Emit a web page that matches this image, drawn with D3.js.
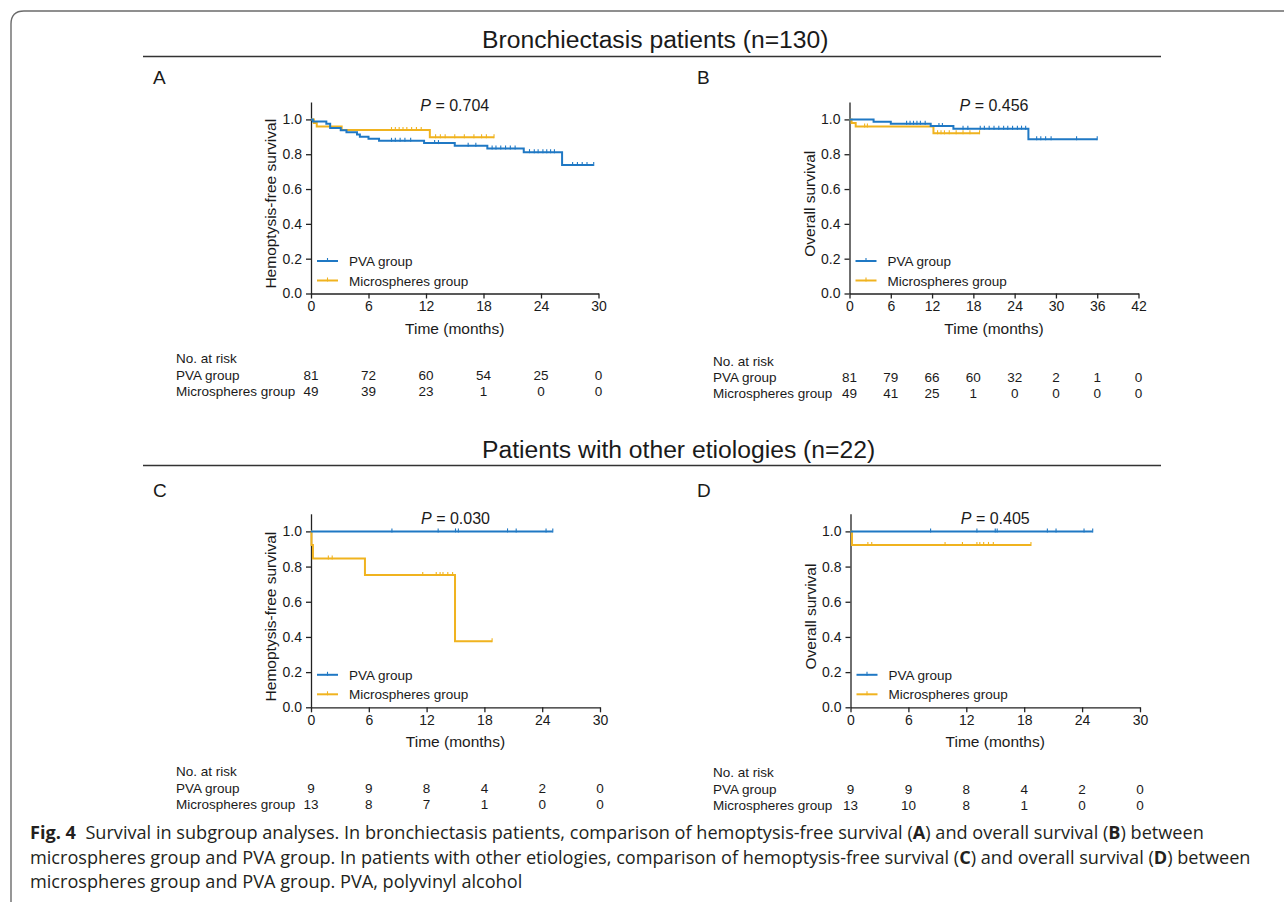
<!DOCTYPE html>
<html>
<head>
<meta charset="utf-8">
<title>Survival in subgroup analyses</title>
<script src="https://cdn.jsdelivr.net/npm/d3@7"></script>
<style>
	body { margin: 0; background: #fff; }
	text { font-family: "Liberation Sans", Arial, sans-serif; fill: #1a1a1a; }
	.caption text, text.caption { font-family: "Open Sans", sans-serif; fill: #231f20; }
</style>
</head>
<body>
<div id="chart"></div>
<script>
var BLUE = "#1f78c4", GOLD = "#f0b31f";
var groups = ["PVA group", "Microspheres group"];

// A: bronchiectasis, hemoptysis-free survival
var aPvaTime = [0, 0.2, 1.6, 2.0, 3.1, 3.7, 4.8, 5.1, 6.0, 7.1, 11.8, 15.0, 18.4, 22.2, 26.2];
var aPvaSurv = [1, 0.988, 0.975, 0.951, 0.938, 0.926, 0.914, 0.901, 0.889, 0.877, 0.864, 0.849, 0.833, 0.812, 0.738];
var aPvaCens = [8.4, 8.8, 9.3, 9.8, 10.4, 12.9, 13.3, 16.4, 17.2, 18.9, 19.3, 19.8, 20.3, 20.8, 21.3, 22.8, 23.3, 23.7, 24.2, 24.6, 25.0, 25.4, 27.3, 27.8, 28.3, 28.8, 29.5];
var aMicTime = [0, 0.3, 0.6, 3.2, 12.4];
var aMicSurv = [1, 0.98, 0.959, 0.939, 0.898];
var aMicCens = [8.4, 8.8, 9.2, 9.6, 10.0, 10.5, 11.0, 11.5, 13.0, 13.5, 14.0, 15.0, 16.0, 17.0, 17.8, 18.3, 19.1];
var aRiskTime = [0, 6, 12, 18, 24, 30];
var aRiskPva = [81, 72, 60, 54, 25, 0];
var aRiskMic = [49, 39, 23, 1, 0, 0];

// B: bronchiectasis, overall survival
var bPvaTime = [0, 3.5, 6.0, 11.8, 15.1, 26.0];
var bPvaSurv = [1, 0.987, 0.975, 0.962, 0.947, 0.886];
var bPvaCens = [8.3, 8.8, 9.3, 9.8, 10.3, 11.0, 13.0, 13.5, 16.5, 17.2, 19.0, 19.6, 20.3, 21.0, 21.7, 22.4, 23.0, 23.7, 24.4, 25.0, 25.6, 27.2, 27.8, 28.5, 29.3, 33.0, 36.0];
var bMicTime = [0, 0.3, 0.9, 12.2];
var bMicSurv = [1, 0.98, 0.959, 0.92];
var bMicCens = [2.2, 2.6, 12.8, 13.3, 13.8, 14.5, 15.5, 16.5, 17.5, 18.9];
var bRiskTime = [0, 6, 12, 18, 24, 30, 36, 42];
var bRiskPva = [81, 79, 66, 60, 32, 2, 1, 0];
var bRiskMic = [49, 41, 25, 1, 0, 0, 0, 0];

// C: other etiologies, hemoptysis-free survival
var cPvaTime = [0];
var cPvaSurv = [1];
var cPvaCens = [8.4, 13.2, 15.0, 15.3, 20.4, 21.3, 24.4, 25.1];
var cMicTime = [0, 0.05, 0.2, 5.6, 14.95];
var cMicSurv = [1, 0.923, 0.846, 0.752, 0.376];
var cMicCens = [1.8, 2.2, 11.6, 13.0, 13.4, 13.7, 14.2, 14.7, 18.8];
var cRiskTime = [0, 6, 12, 18, 24, 30];
var cRiskPva = [9, 9, 8, 4, 2, 0];
var cRiskMic = [13, 8, 7, 1, 0, 0];

// D: other etiologies, overall survival
var dPvaTime = [0];
var dPvaSurv = [1];
var dPvaCens = [8.3, 13.1, 15.0, 15.2, 20.4, 21.3, 24.2, 25.1];
var dMicTime = [0, 0.15];
var dMicSurv = [1, 0.923];
var dMicCens = [1.8, 2.2, 9.8, 11.6, 13.1, 13.4, 13.8, 14.3, 14.8, 18.7];
var dRiskTime = [0, 6, 12, 18, 24, 30];
var dRiskPva = [9, 9, 8, 4, 2, 0];
var dRiskMic = [13, 10, 8, 1, 0, 0];

var pValues = ["0.704", "0.456", "0.030", "0.405"];
var yLabels = ["Hemoptysis-free survival", "Overall survival", "Hemoptysis-free survival", "Overall survival"];
var letters = ["A", "B", "C", "D"];
var yTicks = [0, 0.2, 0.4, 0.6, 0.8, 1.0];

var panels = [
	{pva: [aPvaTime, aPvaSurv, aPvaCens], mic: [aMicTime, aMicSurv, aMicCens], risk: [aRiskTime, aRiskPva, aRiskMic],
	 x0: 311, w: 287.5, y0: 293.5, h: 191.5, lx: 153, ly: 84, rx: 176, ry: [363, 380, 396]},
	{pva: [bPvaTime, bPvaSurv, bPvaCens], mic: [bMicTime, bMicSurv, bMicCens], risk: [bRiskTime, bRiskPva, bRiskMic],
	 x0: 849.5, w: 289, y0: 293.5, h: 191.5, lx: 697, ly: 84, rx: 713, ry: [366, 382, 398]},
	{pva: [cPvaTime, cPvaSurv, cPvaCens], mic: [cMicTime, cMicSurv, cMicCens], risk: [cRiskTime, cRiskPva, cRiskMic],
	 x0: 311, w: 289, y0: 707.3, h: 193.5, lx: 153, ly: 497, rx: 176, ry: [776, 793, 809]},
	{pva: [dPvaTime, dPvaSurv, dPvaCens], mic: [dMicTime, dMicSurv, dMicCens], risk: [dRiskTime, dRiskPva, dRiskMic],
	 x0: 850.5, w: 289.5, y0: 707.3, h: 193.5, lx: 697, ly: 497, rx: 713, ry: [777, 794, 810]}
];

var svg = d3.select("#chart").append("svg").attr("width", 1284).attr("height", 902);

// frame (only top and left edges are visible)
svg.append("path").attr("d", "M11,902 V24 Q11,11 24,11 H1284")
	.attr("fill", "none").attr("stroke", "#6b6b6b").attr("stroke-width", 1.4);

// section headings
[{t: "Bronchiectasis patients (n=130)", y: 48, ly: 56.5}, {t: "Patients with other etiologies (n=22)", y: 458, ly: 465.5}].forEach(function(s){
	svg.append("text").attr("x", 482).attr("y", s.y).attr("font-size", 24.7).text(s.t);
	svg.append("line").attr("x1", 143).attr("x2", 1161).attr("y1", s.ly).attr("y2", s.ly)
		.attr("stroke", "#333").attr("stroke-width", 1.4);
});

function survAt(times, surv, t){
	return surv[d3.bisectRight(times, t) - 1];
}

panels.forEach(function(p, i){
	var times = p.risk[0];
	var x = d3.scaleLinear().domain([0, times[times.length - 1]]).range([p.x0, p.x0 + p.w]);
	var y = d3.scaleLinear().domain([0, 1.1]).range([p.y0, p.y0 - p.h]);
	var g = svg.append("g");

	var xa = g.append("g").attr("transform", "translate(0," + p.y0 + ")")
		.call(d3.axisBottom(x).tickValues(times).tickSize(5).tickSizeOuter(0).tickPadding(3).tickFormat(d3.format("d")));
	var ya = g.append("g").attr("transform", "translate(" + p.x0 + ",0)")
		.call(d3.axisLeft(y).tickValues(yTicks).tickSize(5).tickSizeOuter(0).tickPadding(4).tickFormat(d3.format(".1f")));
	[xa, ya].forEach(function(a){
		a.attr("font-family", null).attr("font-size", 14);
		a.selectAll("path, line").attr("stroke", "#222").attr("stroke-width", 1.3);
		a.selectAll("text").attr("fill", "#1a1a1a");
	});

	g.append("text").attr("x", p.x0 + p.w / 2).attr("y", p.y0 + 40).attr("text-anchor", "middle")
		.attr("font-size", 15.5).text("Time (months)");
	g.append("text").attr("transform", "translate(" + (p.x0 - 35) + "," + (p.y0 - p.h / 2 + 6) + ") rotate(-90)")
		.attr("text-anchor", "middle").attr("font-size", 15.5).text(yLabels[i]);
	var pv = g.append("text").attr("x", p.x0 + p.w / 2).attr("y", p.y0 - 183).attr("text-anchor", "middle").attr("font-size", 16);
	pv.append("tspan").attr("font-style", "italic").text("P");
	pv.append("tspan").text(" = " + pValues[i]);
	svg.append("text").attr("x", p.lx).attr("y", p.ly).attr("font-size", 19).text(letters[i]);

	// curves: microspheres first, PVA on top
	[[p.mic, GOLD], [p.pva, BLUE]].forEach(function(c){
		var t = c[0][0], s = c[0][1], cens = c[0][2];
		var end = d3.max(cens);
		var pts = t.map(function(v, k){ return [v, s[k]]; });
		pts.push([end, s[s.length - 1]]);
		g.append("path").datum(pts)
			.attr("d", d3.line().x(function(d){ return x(d[0]); }).y(function(d){ return y(d[1]); }).curve(d3.curveStepAfter))
			.attr("fill", "none").attr("stroke", c[1]).attr("stroke-width", 2);
		g.selectAll(null).data(cens).enter().append("line")
			.attr("x1", function(d){ return x(d); }).attr("x2", function(d){ return x(d); })
			.attr("y1", function(d){ return y(survAt(t, s, d)) - 3; })
			.attr("y2", function(d){ return y(survAt(t, s, d)) + 1; })
			.attr("stroke", c[1]).attr("stroke-width", 1.1);
	});

	// legend
	[BLUE, GOLD].forEach(function(col, k){
		var ly = p.y0 - 32.5 + k * 19.5;
		g.append("line").attr("x1", p.x0 + 6).attr("x2", p.x0 + 27).attr("y1", ly).attr("y2", ly)
			.attr("stroke", col).attr("stroke-width", 2);
		g.append("line").attr("x1", p.x0 + 16.5).attr("x2", p.x0 + 16.5).attr("y1", ly - 3).attr("y2", ly + 1)
			.attr("stroke", col).attr("stroke-width", 1.1);
		g.append("text").attr("x", p.x0 + 38).attr("y", ly + 5).attr("font-size", 13.5).text(groups[k]);
	});

	// number at risk table
	g.append("text").attr("x", p.rx).attr("y", p.ry[0]).attr("font-size", 13.5).text("No. at risk");
	[p.risk[1], p.risk[2]].forEach(function(vals, k){
		g.append("text").attr("x", p.rx).attr("y", p.ry[k + 1]).attr("font-size", 13.5).text(groups[k]);
		g.selectAll(null).data(vals).enter().append("text")
			.attr("x", function(d, j){ return x(times[j]); }).attr("y", p.ry[k + 1])
			.attr("text-anchor", "middle").attr("font-size", 13.5).text(function(d){ return d; });
	});
});

// caption
var capLines = [
	[["Fig. 4", 1], ["  Survival in subgroup analyses. In bronchiectasis patients, comparison of hemoptysis-free survival (", 0], ["A", 1], [") and overall survival (", 0], ["B", 1], [") between", 0]],
	[["microspheres group and PVA group. In patients with other etiologies, comparison of hemoptysis-free survival (", 0], ["C", 1], [") and overall survival (", 0], ["D", 1], [") between", 0]],
	[["microspheres group and PVA group. PVA, polyvinyl alcohol", 0]]
];
var cap = svg.append("g").attr("class", "caption");
var capText = capLines.map(function(line, k){
	var t = cap.append("text").attr("x", 30).attr("y", 839 + k * 24.5).attr("font-size", 16).attr("xml:space", "preserve");
	line.forEach(function(part){
		t.append("tspan").attr("font-weight", part[1] ? 700 : 400).text(part[0]);
	});
	return t;
});
// fit the caption width to the printed one
var w2 = capText[1].node().getComputedTextLength();
var fs = 16 * 1222 / w2;
capText.forEach(function(t){ t.attr("font-size", fs); });
</script>
</body>
</html>
